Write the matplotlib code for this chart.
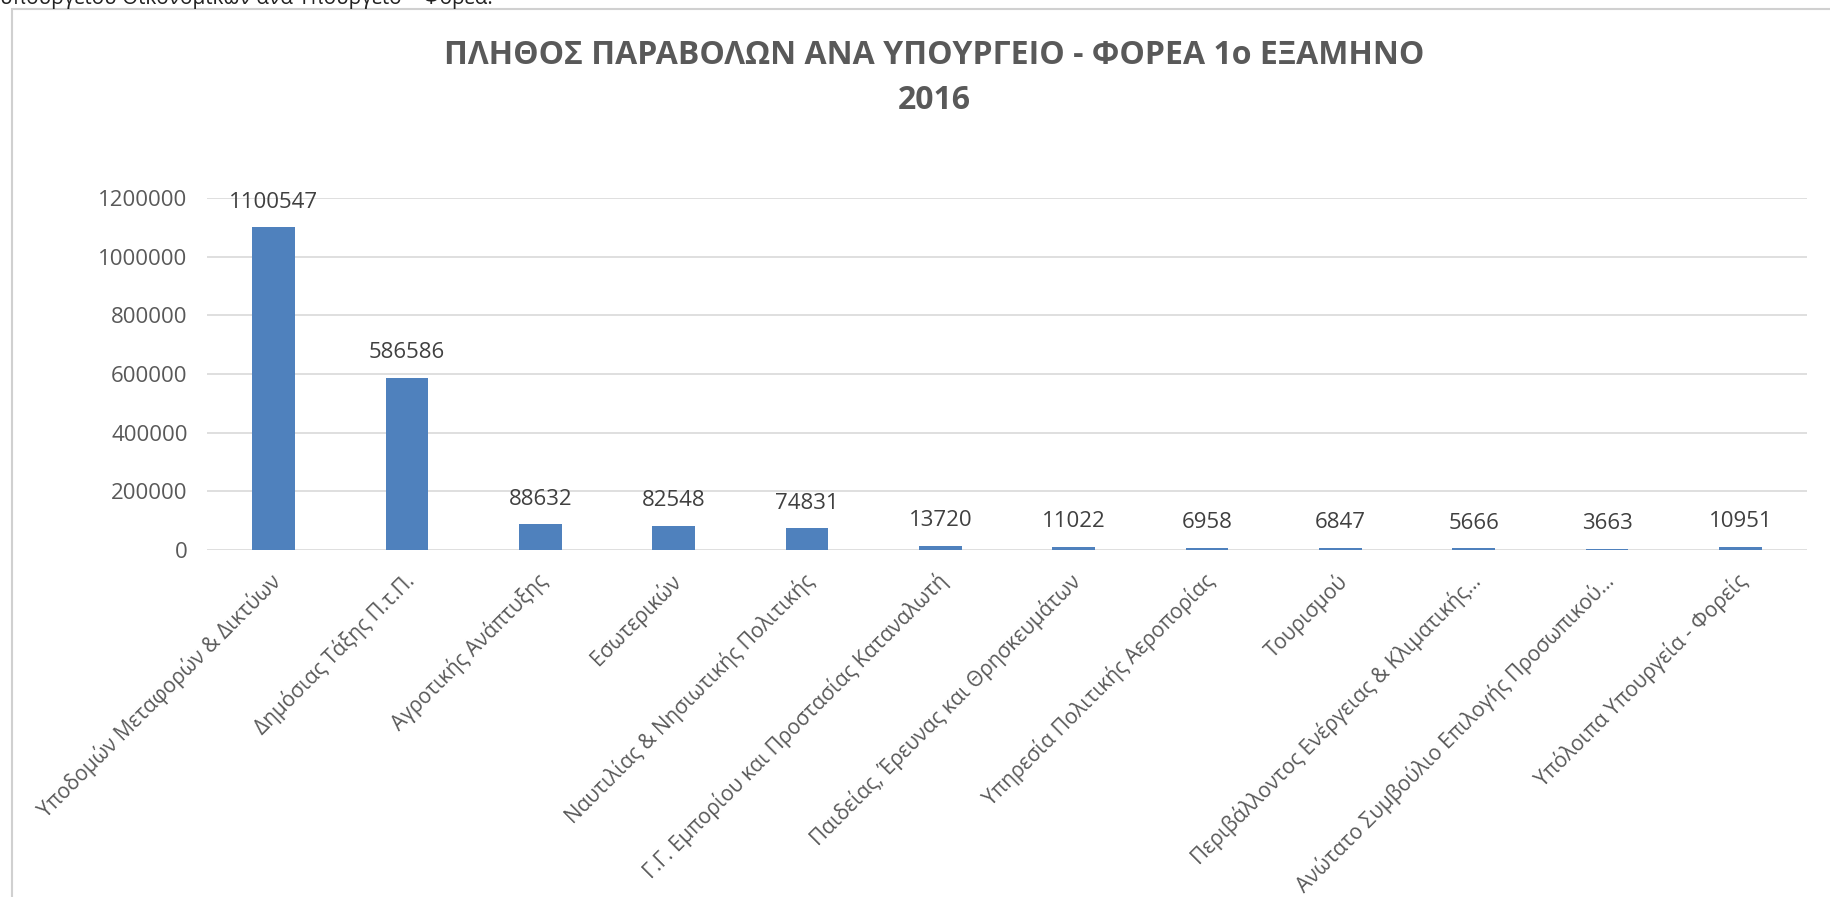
import matplotlib
matplotlib.use("Agg")
import matplotlib.pyplot as plt
import matplotlib.transforms as mtransforms
from matplotlib.patches import Rectangle

plt.rcParams['font.family'] = ['Open Sans', 'DejaVu Sans']

# values
categories = [
    "Υποδομών Μεταφορών & Δικτύων",
    "Δημόσιας Τάξης Π.τ.Π.",
    "Αγροτικής Ανάπτυξης",
    "Εσωτερικών",
    "Ναυτιλίας & Νησιωτικής Πολιτικής",
    "Γ.Γ. Εμπορίου και Προστασίας Καταναλωτή",
    "Παιδείας, Έρευνας και Θρησκευμάτων",
    "Υπηρεσία Πολιτικής Αεροπορίας",
    "Τουρισμού",
    "Περιβάλλοντος Ενέργειας & Κλιματικής...",
    "Ανώτατο Συμβούλιο Επιλογής Προσωπικού...",
    "Υπόλοιπα Υπουργεία - Φορείς",
]
counts = [1100547, 586586, 88632, 82548, 74831, 13720, 11022, 6958, 6847, 5666, 3663, 10951]
yticks = [0, 200000, 400000, 600000, 800000, 1000000, 1200000]

title = "ΠΛΗΘΟΣ ΠΑΡΑΒΟΛΩΝ ΑΝΑ ΥΠΟΥΡΓΕΙΟ - ΦΟΡΕΑ 1ο ΕΞΑΜΗΝΟ\n2016"
top_note = "υπουργείου Οικονομικών ανά Υπουργείο – Φορέα."

W, H = 1831, 897
fig = plt.figure(figsize=(W / 100, H / 100), dpi=100)

# chart frame (light grey, runs off right/bottom)
fig.patches.append(Rectangle((12 / W, -0.1), 1.2, (H - 9) / H + 0.1,
                             transform=fig.transFigure, fill=False,
                             edgecolor="#D0D0D0", linewidth=1.5))
# line of text above the chart, cut by the top edge as in the source
fig.text(0 / W, (H - 4) / H, top_note, fontsize=15, color="#222222",
         va="baseline", ha="left")

ax = fig.add_axes([207 / W, (H - 550) / H, 1600 / W, 352 / H])
x = range(len(categories))
ax.bar(x, counts, width=0.32, color="#4F81BD", zorder=3)
ax.set_xlim(-0.5, len(categories) - 0.5)
ax.set_ylim(0, 1200000)
ax.set_yticks(yticks)
ax.set_yticklabels([str(v) for v in yticks])
ax.yaxis.grid(True, color="#D9D9D9", linewidth=1.2, zorder=0)
for s in ax.spines.values():
    s.set_visible(False)
ax.tick_params(axis="both", length=0, labelsize=16, colors="#595959")
ax.tick_params(axis="y", pad=14)

for xi, v in zip(x, counts):
    ax.annotate(str(v), (xi, v), xytext=(0, 18), textcoords="offset points",
                ha="center", va="center", fontsize=16, color="#404040")

ax.set_xticks(list(x))
ax.set_xticklabels(categories, rotation=45, ha="right", va="center",
                   rotation_mode="anchor", fontsize=15, color="#595959")
ax.tick_params(axis="x", pad=20)
shift = mtransforms.ScaledTranslation(0.04, 0, fig.dpi_scale_trans)
for lbl in ax.get_xticklabels():
    lbl.set_transform(lbl.get_transform() + shift)

fig.text(934 / W, (H - 78) / H, title, fontsize=23, fontweight="bold",
         color="#595959", ha="center", va="center", linespacing=1.5)

fig.savefig("out.png", dpi=100)
